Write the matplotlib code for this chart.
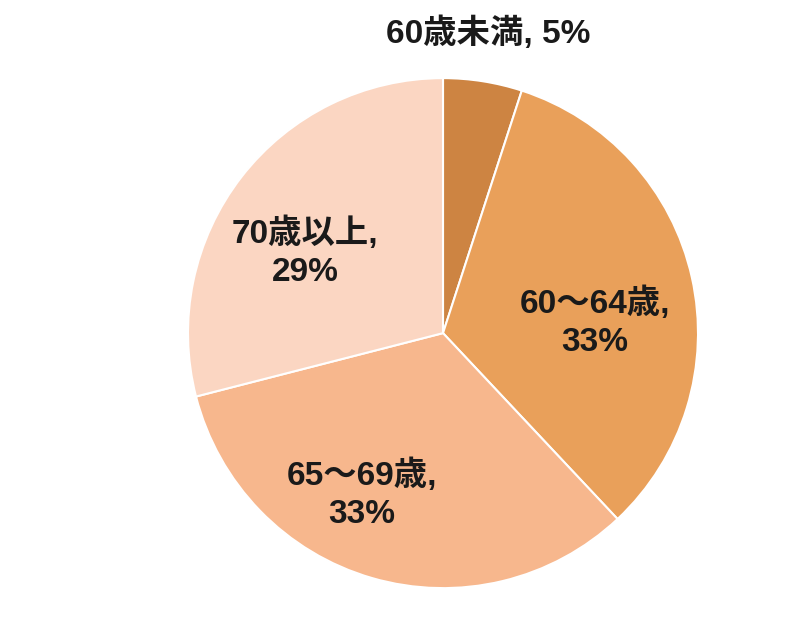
import matplotlib
matplotlib.use("Agg")
import matplotlib.pyplot as plt

plt.rcParams['font.family'] = ['Liberation Sans', 'Noto Sans CJK JP', 'DejaVu Sans']

categories = ["60歳未満", "60〜64歳", "65〜69歳", "70歳以上"]
values = [5, 33, 33, 29]
colors = ["#CD8442", "#E9A05A", "#F7B78D", "#FBD6C2"]
label_texts = ["60歳未満, 5%", "60〜64歳,\n33%", "65〜69歳,\n33%", "70歳以上,\n29%"]
# layout: label positions in axes data units (pie radius = 1)
label_pos = [(0.176, 1.176), (0.596, 0.043), (-0.318, -0.631), (-0.541, 0.318)]

fig = plt.figure(figsize=(8, 6.4), dpi=100)
ax = fig.add_axes([0.235, 0.081, 0.6375, 0.797])
ax.pie(values, colors=colors, startangle=90, counterclock=False,
       wedgeprops=dict(edgecolor="white", linewidth=1.5))
for txt, (x, y) in zip(label_texts, label_pos):
    ax.text(x, y, txt, ha="center", va="center", fontsize=24,
            fontweight="bold", color="#1a1a1a", linespacing=1.3)
ax.set_xlim(-1, 1)
ax.set_ylim(-1, 1)
ax.set_aspect("equal")
ax.axis("off")
fig.savefig("out.png", dpi=100)
